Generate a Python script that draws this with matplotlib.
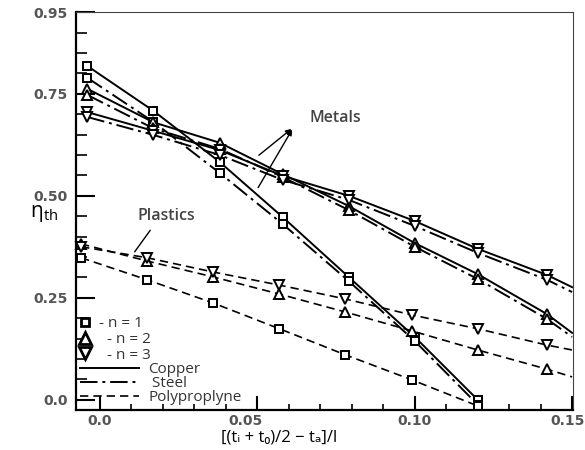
import matplotlib
matplotlib.use("Agg")
import matplotlib.pyplot as plt
from matplotlib.lines import Line2D
from matplotlib.transforms import ScaledTranslation

plt.rcParams['font.family'] = ['Open Sans', 'DejaVu Sans']

# x positions of the marker columns (last value = line end at the right edge)
x_metal = [-0.004, 0.017, 0.038, 0.058, 0.079, 0.100, 0.120, 0.142, 0.150]
x_plast = [-0.006, 0.015, 0.036, 0.057, 0.078, 0.099, 0.120, 0.142, 0.150]

# metals, n = 1 (ends at zero)
copper_n1 = [0.818, 0.708, 0.583, 0.448, 0.301, 0.154, 0.0]
steel_n1 = [0.789, 0.681, 0.556, 0.431, 0.291, 0.144, -0.012]
# metals, n = 2
copper_n2 = [0.762, 0.680, 0.630, 0.553, 0.475, 0.384, 0.308, 0.210, 0.164]
steel_n2 = [0.747, 0.665, 0.615, 0.546, 0.465, 0.375, 0.296, 0.198, 0.154]
# metals, n = 3
copper_n3 = [0.705, 0.659, 0.612, 0.549, 0.500, 0.438, 0.370, 0.306, 0.276]
steel_n3 = [0.693, 0.649, 0.600, 0.539, 0.490, 0.426, 0.360, 0.294, 0.264]
# polypropylene
pp_n1 = [0.348, 0.294, 0.237, 0.174, 0.110, 0.049, -0.015]
pp_n2 = [0.382, 0.340, 0.301, 0.259, 0.215, 0.169, 0.122, 0.075, 0.056]
pp_n3 = [0.375, 0.348, 0.313, 0.281, 0.247, 0.208, 0.174, 0.134, 0.122]

fig = plt.figure(figsize=(5.85, 4.5), dpi=100)
ax = fig.add_axes([0.130, 0.089, 0.849, 0.884])

mk = dict(mfc='white', mec='black', mew=1.4, clip_on=False)


def curve(x, y, ls, marker, ms, lw=1.4, extend=False):
    n = len(y)
    every = list(range(n - 1)) if extend else list(range(n))
    ax.plot(x[:n], y, color='black', ls=ls, lw=lw, marker=marker, ms=ms,
            markevery=every, **mk)


dashdot = (0, (9, 2.5, 1.5, 2.5))
dashed = (0, (5, 3))

curve(x_metal, copper_n1, '-', 's', 5.5)
curve(x_metal, steel_n1, dashdot, 's', 5.5)
curve(x_metal, copper_n2, '-', '^', 7, extend=True)
curve(x_metal, steel_n2, dashdot, '^', 7, extend=True)
curve(x_metal, copper_n3, '-', 'v', 7, extend=True)
curve(x_metal, steel_n3, dashdot, 'v', 7, extend=True)
curve(x_plast, pp_n1, dashed, 's', 5.5, lw=1.2)
curve(x_plast, pp_n2, dashed, '^', 7, lw=1.2, extend=True)
curve(x_plast, pp_n3, dashed, 'v', 7, lw=1.2, extend=True)

ax.set_xlim(-0.0076, 0.1502)
ax.set_ylim(-0.025, 0.95)
ax.set_xticks([0.0, 0.05, 0.10, 0.15])
ax.set_xticklabels(['0.0', '0.05', '0.10', '0.15'])
ax.set_yticks([0.0, 0.25, 0.50, 0.75, 0.95])
ax.set_yticklabels(['0.0', '0.25', '0.50', '0.75', '0.95'])
ax.set_xticks([i * 0.01 for i in range(0, 15)], minor=True)
ax.set_yticks([i * 0.05 for i in range(0, 19)], minor=True)
ax.tick_params(axis='y', which='major', direction='in', length=14, width=1.5,
               pad=6)
ax.tick_params(axis='y', which='minor', direction='in', length=8, width=1.2)
ax.tick_params(axis='x', which='major', direction='in', length=10, width=1.5,
               pad=3)
ax.tick_params(axis='x', which='minor', direction='in', length=4, width=1.2)
for lab in ax.get_xticklabels() + ax.get_yticklabels():
    lab.set_family('DejaVu Sans')
    lab.set_fontweight('bold')
    lab.set_fontsize(10)
    lab.set_color('#555555')
# nudge the x labels towards where the reference prints them
xoffs = [0, -12, 0, -5]
for lab, dx in zip(ax.get_xticklabels(), xoffs):
    lab.set_transform(lab.get_transform() +
                      ScaledTranslation(dx / 100, 0, fig.dpi_scale_trans))

ax.spines['left'].set_linewidth(1.6)
ax.spines['bottom'].set_linewidth(1.6)
ax.spines['top'].set_color('#444444')
ax.spines['right'].set_color('#444444')

fig.text(279 / 585, 1 - 437 / 450, '[(tᵢ + t₀)/2 − tₐ]/l', fontsize=12,
         ha='center', va='center')
fig.text(0.052, 0.525, r'$\mathregular{\eta_{th}}$', fontsize=15, ha='left',
         va='center')

# annotations
ax.text(0.0667, 0.691, 'Metals', fontsize=11.5, fontweight='semibold',
        color='#444444', va='center')
for yy in [0.595, 0.514]:
    ax.annotate('', xy=(0.0615, 0.668), xytext=(0.0498, yy),
                arrowprops=dict(arrowstyle='-|>', color='black', lw=1,
                                mutation_scale=8))
ax.text(0.0212, 0.450, 'Plastics', fontsize=11.5, fontweight='semibold',
        color='#444444', ha='center', va='center')
ax.annotate('', xy=(0.0165, 0.421), xytext=(0.0105, 0.357),
            arrowprops=dict(arrowstyle='-', color='black', lw=1))

# legends
h1 = [Line2D([], [], ls='none', marker='s', ms=5.5, mfc='white', mec='black', mew=2),
      Line2D([], [], ls='none', marker='^', ms=8, mfc='white', mec='black', mew=2),
      Line2D([], [], ls='none', marker='v', ms=8, mfc='white', mec='black', mew=2)]
leg1 = ax.legend(h1, ['- n = 1', '  - n = 2', '  - n = 3'], loc='upper left',
                 bbox_to_anchor=(-0.012, 0.255), frameon=False, handlelength=1.0,
                 handletextpad=0.4, labelspacing=0.05, borderaxespad=0.1,
                 prop={'size': 11}, labelcolor='#333333')
ax.add_artist(leg1)
h2 = [Line2D([], [], color='black', ls='-', lw=1.4),
      Line2D([], [], color='black', ls=dashdot, lw=1.4),
      Line2D([], [], color='black', ls=dashed, lw=1.2)]
ax.legend(h2, ['Copper', ' Steel', 'Polyproplyne'], loc='upper left',
          bbox_to_anchor=(-0.008, 0.140), frameon=False, handlelength=3.9,
          handletextpad=0.6, labelspacing=-0.05, borderaxespad=0.1,
          prop={'size': 11}, labelcolor='#333333')

fig.savefig('out.png', dpi=100)
